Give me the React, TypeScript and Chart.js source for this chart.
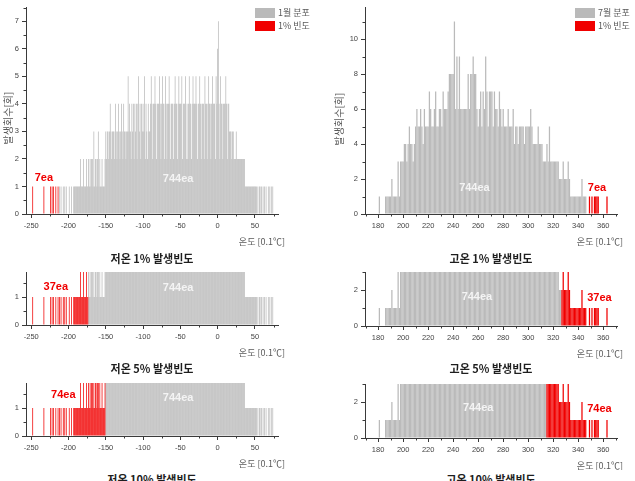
import React, { useEffect, useRef } from 'react';
import { Chart, registerables } from 'chart.js';

Chart.register(...registerables);

// Hourly temperature occurrences per 0.1 °C bin (744 hours each month)
const JAN_START = -250;
const JAN_COUNTS = [
  0, 0, 1, 0, 0, 0, 0, 0, 0, 0,
  0, 0, 0, 0, 0, 0, 0, 1, 0, 0,
  0, 0, 0, 0, 0, 0, 1, 0, 1, 0,
  1, 0, 0, 1, 0, 0, 1, 0, 1, 0,
  1, 0, 0, 1, 0, 1, 0, 1, 0, 0,
  0, 1, 0, 0, 1, 0, 0, 1, 1, 1,
  1, 1, 1, 1, 1, 1, 2, 1, 1, 1,
  2, 1, 1, 1, 2, 1, 1, 2, 1, 2,
  1, 2, 2, 1, 3, 1, 2, 2, 1, 2,
  3, 1, 2, 1, 1, 2, 1, 1, 1, 2,
  3, 2, 3, 3, 2, 3, 4, 3, 2, 3,
  3, 3, 2, 4, 3, 2, 3, 4, 3, 2,
  3, 4, 3, 2, 4, 3, 3, 2, 3, 3,
  5, 3, 4, 3, 2, 4, 3, 4, 2, 4,
  3, 4, 2, 4, 5, 3, 4, 2, 4, 3,
  4, 3, 5, 2, 4, 3, 2, 4, 3, 3,
  4, 5, 4, 2, 4, 4, 5, 4, 2, 4,
  4, 4, 5, 4, 2, 4, 5, 4, 4, 2,
  5, 4, 2, 4, 4, 5, 4, 2, 4, 4,
  4, 2, 4, 5, 4, 4, 2, 4, 5, 4,
  4, 4, 5, 2, 4, 4, 4, 5, 2, 4,
  2, 4, 5, 4, 4, 2, 4, 5, 4, 4,
  4, 5, 4, 2, 4, 4, 5, 4, 2, 4,
  4, 4, 2, 5, 4, 4, 2, 4, 5, 4,
  4, 2, 4, 5, 4, 4, 4, 2, 5, 4,
  6, 7, 4, 2, 5, 4, 4, 2, 4, 4,
  4, 5, 4, 2, 4, 4, 3, 3, 3, 2,
  3, 3, 2, 2, 2, 3, 2, 2, 2, 2,
  2, 2, 2, 2, 2, 2, 2, 1, 1, 1,
  1, 1, 1, 1, 1, 1, 1, 1, 1, 1,
  1, 1, 1, 0, 1, 0, 1, 1, 0, 1,
  0, 1, 0, 1, 0, 1, 0, 0, 1, 0,
  1, 0, 1, 0, 1, 0,
];

const JUL_START = 180;
const JUL_COUNTS = [
  0, 1, 0, 0, 0, 0, 1, 1, 1, 1,
  1, 2, 1, 1, 1, 1, 3, 1, 3, 3,
  3, 4, 4, 3, 4, 5, 4, 4, 3, 4,
  5, 6, 5, 5, 6, 5, 4, 6, 5, 5,
  5, 7, 6, 5, 5, 6, 7, 5, 5, 6,
  6, 5, 7, 6, 6, 6, 7, 8, 8, 8,
  8, 11, 6, 9, 6, 9, 6, 6, 6, 6,
  6, 6, 8, 6, 8, 8, 9, 8, 8, 6,
  5, 6, 7, 5, 7, 6, 9, 7, 5, 7,
  7, 7, 5, 7, 6, 6, 5, 7, 6, 5,
  6, 5, 5, 5, 6, 5, 5, 5, 6, 4,
  5, 5, 4, 5, 5, 5, 5, 4, 5, 5,
  5, 5, 6, 5, 4, 4, 4, 4, 5, 4,
  4, 4, 3, 3, 3, 4, 3, 5, 3, 3,
  3, 3, 3, 3, 3, 2, 2, 2, 3, 2,
  2, 2, 3, 2, 1, 1, 1, 1, 1, 1,
  1, 1, 1, 2, 1, 1, 1, 0, 0, 1,
  0, 1, 0, 1, 1, 1, 1, 0, 0, 0,
  0, 0, 0, 1,
];

// Tail shares highlighted in red (percent of all hours)
const SHARES = [1, 5, 10];

// Axis ticks
const JAN_X_TICKS = [-250, -200, -150, -100, -50, 0, 50];
const JAN_X_MINOR = [-225, -175, -125, -75, -25, 25, 75];
const JUL_X_TICKS = [180, 200, 220, 240, 260, 280, 300, 320, 340, 360];
const JUL_X_MINOR = [170, 190, 210, 230, 250, 270, 290, 310, 330, 350, 370];
const JAN_Y_TICKS = [0, 1, 2, 3, 4, 5, 6, 7];
const JAN_Y_MINOR = [0.5, 1.5, 2.5, 3.5, 4.5, 5.5, 6.5, 7.5];
const JUL_Y_TICKS = [0, 2, 4, 6, 8, 10];
const JUL_Y_MINOR = [1, 3, 5, 7, 9, 11];
const COLD_ZOOM_Y_TICKS = [0, 1];
const COLD_ZOOM_Y_MINOR = [0.5, 1.5];
const HOT_ZOOM_Y_TICKS = [0, 2];
const HOT_ZOOM_Y_MINOR = [1, 3];

// Texts
const JAN_LEGEND = ['1월 분포', '1% 빈도'];
const JUL_LEGEND = ['7월 분포', '1% 빈도'];
const COLD_CAPTIONS = ['저온 1% 발생빈도', '저온 5% 발생빈도', '저온 10% 발생빈도'];
const HOT_CAPTIONS = ['고온 1% 발생빈도', '고온 5% 발생빈도', '고온 10% 발생빈도'];
const X_TITLE = '온도 [0.1℃]';
const Y_TITLE = '발생회수[회]';

// Styling
const GRAY = '#bababa';
const RED = '#f00000';
const AXIS_COLOR = '#3a3a3a';
const TICK_COLOR = '#444444';
const SOFT_TEXT = '#5a5a5a';
const NUM_FONT = '"Liberation Sans", Arial, sans-serif';
const KR_FONT = '"Noto Sans CJK KR", "Noto Sans", sans-serif';

const LEFT_COL = { x: 0, w: 320, yAxisW: 26, padRight: 42, xMin: -257, xMax: 81 };
const RIGHT_COL = { x: 330, w: 305, yAxisW: 35, padRight: 18, xMin: 169.5, xMax: 371 };

const PANELS = [
  {
    id: 'cold1', side: 'cold', share: SHARES[0], counts: JAN_COUNTS, start: JAN_START, col: LEFT_COL,
    y: 0, h: 250, padTop: 3, xAxisH: 36, yMax: 7.5,
    xTicks: JAN_X_TICKS, xMinor: JAN_X_MINOR, yTicks: JAN_Y_TICKS, yMinor: JAN_Y_MINOR,
    legend: { labels: JAN_LEGEND, x: 255, y: 8 }, yTitle: { x: 8, y: 118 },
    totalAt: { x: -53, y: 1.28 }, redAt: { x: -233, y: 1.32 }, xTitleDx: 7,
  },
  {
    id: 'cold5', side: 'cold', share: SHARES[1], counts: JAN_COUNTS, start: JAN_START, col: LEFT_COL,
    y: 255, h: 105, padTop: 17, xAxisH: 35, yMax: 1.9,
    xTicks: JAN_X_TICKS, xMinor: JAN_X_MINOR, yTicks: COLD_ZOOM_Y_TICKS, yMinor: COLD_ZOOM_Y_MINOR,
    totalAt: { x: -53, y: 1.33 }, redAt: { x: -217, y: 1.37 }, xTitleDx: 7,
  },
  {
    id: 'cold10', side: 'cold', share: SHARES[2], counts: JAN_COUNTS, start: JAN_START, col: LEFT_COL,
    y: 370, h: 100, padTop: 13, xAxisH: 34, yMax: 1.9,
    xTicks: JAN_X_TICKS, xMinor: JAN_X_MINOR, yTicks: COLD_ZOOM_Y_TICKS, yMinor: COLD_ZOOM_Y_MINOR,
    totalAt: { x: -53, y: 1.37 }, redAt: { x: -207, y: 1.47 }, xTitleDx: 7,
  },
  {
    id: 'hot1', side: 'hot', share: SHARES[0], counts: JUL_COUNTS, start: JUL_START, col: RIGHT_COL,
    y: 0, h: 250, padTop: 3, xAxisH: 36, yMax: 11.8,
    xTicks: JUL_X_TICKS, xMinor: JUL_X_MINOR, yTicks: JUL_Y_TICKS, yMinor: JUL_Y_MINOR,
    legend: { labels: JUL_LEGEND, x: 245, y: 8 }, yTitle: { x: 9, y: 119 },
    totalAt: { x: 257, y: 1.5 }, redAt: { x: 355, y: 1.5 }, xTitleDx: 6,
  },
  {
    id: 'hot5', side: 'hot', share: SHARES[1], counts: JUL_COUNTS, start: JUL_START, col: RIGHT_COL,
    y: 255, h: 105, padTop: 17, xAxisH: 34, yMax: 3,
    xTicks: JUL_X_TICKS, xMinor: JUL_X_MINOR, yTicks: HOT_ZOOM_Y_TICKS, yMinor: HOT_ZOOM_Y_MINOR,
    totalAt: { x: 259, y: 1.61 }, redAt: { x: 357, y: 1.56 }, xTitleDx: 6,
  },
  {
    id: 'hot10', side: 'hot', share: SHARES[2], counts: JUL_COUNTS, start: JUL_START, col: RIGHT_COL,
    y: 370, h: 100, padTop: 14, xAxisH: 32, yMax: 3,
    xTicks: JUL_X_TICKS, xMinor: JUL_X_MINOR, yTicks: HOT_ZOOM_Y_TICKS, yMinor: HOT_ZOOM_Y_MINOR,
    totalAt: { x: 260, y: 1.67 }, redAt: { x: 357, y: 1.61 }, xTitleDx: 6,
  },
];

const CAPTION_ROWS = [258, 368, 479];
const CAPTION_CENTERS = { cold: 152, hot: 491 };

// Split a histogram into the extreme tail (coldest or hottest share of hours) and the rest
function splitTail(counts: number[], side: string, share: number) {
  const total = counts.reduce((a, b) => a + b, 0);
  let remaining = Math.floor((total * share) / 100);
  const red = counts.map(() => 0);
  const order = counts.map((_, i) => i);
  if (side === 'hot') order.reverse();
  for (const i of order) {
    if (remaining <= 0) break;
    const take = Math.min(counts[i], remaining);
    red[i] = take;
    remaining -= take;
  }
  const gray = counts.map((c, i) => c - red[i]);
  const redTotal = red.reduce((a, b) => a + b, 0);
  return { total, red, gray, redTotal };
}

function toPoints(values: number[], start: number) {
  const pts: { x: number; y: number }[] = [];
  values.forEach((v, i) => {
    if (v > 0) pts.push({ x: start + i, y: v });
  });
  return pts;
}

const decorPlugin = {
  id: 'decor',
  afterDraw(chart: any, _args: any, o: any) {
    const { ctx, chartArea: area } = chart;
    const xs = chart.scales.x;
    const ys = chart.scales.y;
    ctx.save();

    // minor ticks
    ctx.strokeStyle = AXIS_COLOR;
    ctx.lineWidth = 1;
    ctx.beginPath();
    for (const v of o.minorX) {
      if (v < xs.min || v > xs.max) continue;
      const px = Math.round(xs.getPixelForValue(v)) + 0.5;
      ctx.moveTo(px, area.bottom);
      ctx.lineTo(px, area.bottom + 2.5);
    }
    for (const v of o.minorY) {
      if (v < ys.min || v > ys.max + 0.01) continue;
      const py = Math.round(ys.getPixelForValue(v)) + 0.5;
      ctx.moveTo(area.left, py);
      ctx.lineTo(area.left - 2.5, py);
    }
    ctx.stroke();

    // axis titles
    ctx.fillStyle = SOFT_TEXT;
    ctx.font = `9px ${KR_FONT}`;
    ctx.textAlign = 'right';
    ctx.textBaseline = 'middle';
    ctx.fillText(X_TITLE, area.right + o.xTitleDx, area.bottom + 28);
    if (o.yTitle) {
      ctx.save();
      ctx.translate(o.yTitle.x, o.yTitle.y);
      ctx.rotate(-Math.PI / 2);
      ctx.textAlign = 'center';
      ctx.font = `10px ${KR_FONT}`;
      ctx.fillText(Y_TITLE, 0, 0);
      ctx.restore();
    }

    // legend
    if (o.legend) {
      const { x, y, labels } = o.legend;
      ctx.fillStyle = GRAY;
      ctx.fillRect(x, y, 20, 10);
      ctx.fillStyle = RED;
      ctx.fillRect(x, y + 13, 20, 10);
      ctx.fillStyle = SOFT_TEXT;
      ctx.font = `9px ${KR_FONT}`;
      ctx.textAlign = 'left';
      ctx.fillText(labels[0], x + 23, y + 5);
      ctx.fillText(labels[1], x + 23, y + 18);
    }

    // count labels
    ctx.font = `bold 11px ${NUM_FONT}`;
    ctx.textAlign = 'center';
    ctx.fillStyle = '#f4f4f4';
    ctx.fillText(o.totalText, xs.getPixelForValue(o.totalAt.x), ys.getPixelForValue(o.totalAt.y));
    ctx.fillStyle = RED;
    ctx.fillText(o.redText, xs.getPixelForValue(o.redAt.x), ys.getPixelForValue(o.redAt.y));

    ctx.restore();
  },
};

function buildConfig(p: any): any {
  const { total, red, gray, redTotal } = splitTail(p.counts, p.side, p.share);
  const col = p.col;
  const barStyle = {
    barPercentage: 1,
    categoryPercentage: 1,
    borderWidth: 0,
    inflateAmount: 0,
    clip: 0,
  };
  const axisCommon = {
    type: 'linear',
    bounds: 'data',
    stacked: true,
    offset: false,
    grid: {
      display: true,
      drawOnChartArea: false,
      drawTicks: true,
      tickLength: 4,
      color: AXIS_COLOR,
      offset: false,
    },
    border: { display: true, color: AXIS_COLOR, width: 1 },
  };
  const tickStyle = {
    font: { family: NUM_FONT, size: 7.5 },
    color: TICK_COLOR,
    padding: 3,
    autoSkip: false,
    maxRotation: 0,
    callback: (v: number) => String(v),
  };
  return {
    type: 'bar',
    data: {
      datasets: [
        { data: toPoints(red, p.start), backgroundColor: RED, ...barStyle },
        { data: toPoints(gray, p.start), backgroundColor: GRAY, ...barStyle },
      ],
    },
    options: {
      responsive: false,
      animation: false,
      devicePixelRatio: 1,
      events: [],
      layout: { padding: { top: p.padTop, right: col.padRight, left: 0, bottom: 0 } },
      plugins: {
        legend: { display: false },
        tooltip: { enabled: false },
        decor: {
          minorX: p.xMinor,
          minorY: p.yMinor,
          legend: p.legend,
          yTitle: p.yTitle,
          xTitleDx: p.xTitleDx,
          totalText: `${total}ea`,
          redText: `${redTotal}ea`,
          totalAt: p.totalAt,
          redAt: p.redAt,
        },
      },
      scales: {
        x: {
          ...axisCommon,
          min: col.xMin,
          max: col.xMax,
          afterBuildTicks: (s: any) => {
            s.ticks = p.xTicks.map((value: number) => ({ value }));
          },
          afterFit: (s: any) => {
            s.height = p.xAxisH;
          },
          ticks: tickStyle,
        },
        y: {
          ...axisCommon,
          min: 0,
          max: p.yMax,
          afterBuildTicks: (s: any) => {
            s.ticks = p.yTicks.map((value: number) => ({ value }));
          },
          afterFit: (s: any) => {
            s.width = col.yAxisW;
          },
          ticks: tickStyle,
        },
      },
    },
    plugins: [decorPlugin],
  };
}

function Panel({ spec }: { spec: any }) {
  const ref = useRef<HTMLCanvasElement>(null);
  useEffect(() => {
    if (!ref.current) return;
    const chart = new Chart(ref.current, buildConfig(spec));
    return () => chart.destroy();
  }, [spec]);
  const { col } = spec;
  return (
    <canvas
      ref={ref}
      width={col.w}
      height={spec.h}
      style={{ position: 'absolute', left: col.x, top: spec.y, width: col.w, height: spec.h }}
    />
  );
}

export default function App() {
  const captions = [
    ...COLD_CAPTIONS.map((text, i) => ({ text, cx: CAPTION_CENTERS.cold, cy: CAPTION_ROWS[i] })),
    ...HOT_CAPTIONS.map((text, i) => ({ text, cx: CAPTION_CENTERS.hot, cy: CAPTION_ROWS[i] })),
  ];
  return (
    <div
      style={{
        position: 'absolute',
        left: 0,
        top: 0,
        width: 635,
        height: 481,
        overflow: 'hidden',
        background: '#ffffff',
      }}
    >
      {PANELS.map((p) => (
        <Panel key={p.id} spec={p} />
      ))}
      {captions.map((c) => (
        <div
          key={c.text}
          style={{
            position: 'absolute',
            left: c.cx - 100,
            top: c.cy - 8,
            width: 200,
            height: 16,
            lineHeight: '16px',
            textAlign: 'center',
            font: `bold 11px ${KR_FONT}`,
            color: '#1e1e1e',
            whiteSpace: 'nowrap',
          }}
        >
          {c.text}
        </div>
      ))}
    </div>
  );
}
